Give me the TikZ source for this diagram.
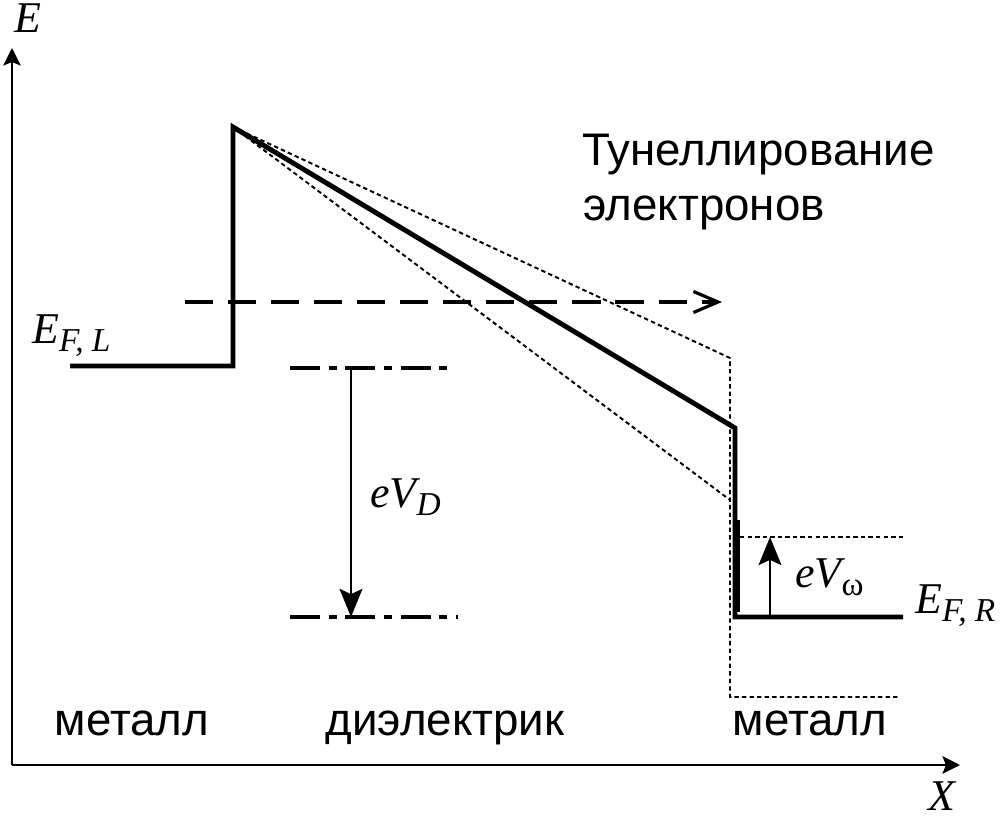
\documentclass[tikz,border=0pt]{standalone}
\usepackage{fontspec}
\setmainfont{Liberation Sans}
\newfontfamily\timesf{Liberation Serif}
\usetikzlibrary{arrows.meta}
\tikzset{
  lab/.style={font=\fontsize{26}{30}\selectfont, inner sep=0pt},
  sym/.style={font=\timesf\itshape\fontsize{25}{28}\selectfont, inner sep=0pt},
  axisLine/.style={line width=1.1pt, -{Stealth[length=10pt,width=10pt,inset=2pt]}},
  bandLine/.style={line width=2.8pt, line join=miter},
  guideLine/.style={line width=1.1pt, dash pattern=on 2.5pt off 1.8pt},
  levelLine/.style={line width=2.2pt, dash pattern=on 17pt off 5pt on 4.5pt off 5pt},
  tunLine/.style={line width=1.8pt, dash pattern=on 16pt off 8.5pt, -{Straight Barb[length=14pt,width=12pt]}},
  gapArrow/.style={line width=1.4pt, -{Stealth[length=16pt,width=13pt,inset=3pt]}}
}
\newcommand{\subs}[1]{\raisebox{-0.4ex}{\fontsize{19}{19}\selectfont #1}}
\begin{document}
\begin{tikzpicture}[x=0.02cm, y=-0.02cm]
\useasboundingbox (0,0) rectangle (1000,821);
% axes
\coordinate (org) at (12,765);
\coordinate (eTip) at (12,48);
\coordinate (xTip) at (960,765);
\draw[axisLine] (org) -- (eTip);
\draw[axisLine] (org) -- (xTip);
\node[sym] (eAxis) at (28,18) {E};
\node[sym, anchor=base] (xAxis) at (942,810) {X};

% barrier profile
\coordinate (top) at (233,127);
\draw[guideLine] (top) -- (730,358) -- (730,697) -- (900,697);
\draw[guideLine] (top) -- (730,500);
\draw[guideLine] (740,537) -- (905,537);
\draw[bandLine] (70,366) -- (233,366) -- (top) -- (735,428) -- (735,617) -- (903,617);
\draw[line width=2.8pt] (738,520) -- (738,612);

% tunnelling
\coordinate (tunFrom) at (185,302);
\coordinate (tunTo) at (722,302);
\draw[tunLine] (tunFrom) -- (tunTo);
\node[lab, anchor=base west] (tunOne) at (582,165) {Тунеллирование};
\node[lab, anchor=base west] (tunTwo) at (583,220) {электронов};

% levels
\draw[levelLine] (290,368) -- (455,368);
\draw[levelLine] (290,617) -- (458,617);
\coordinate (dTop) at (351,368);
\coordinate (dBot) at (351,617);
\draw[gapArrow] (dTop) -- (dBot);
\node[sym, anchor=base west] (vD) at (370,507) {eV\subs{D}};
\coordinate (wBot) at (770,617);
\coordinate (wTop) at (770,537);
\draw[gapArrow] (wBot) -- (wTop);
\node[sym, anchor=base west] (vW) at (795,587) {eV\subs{\upshape ω}};

\node[sym, anchor=base west] (efL) at (32,343) {E\subs{F, L}};
\node[sym, anchor=base west] (efR) at (915,613) {E\subs{F, R}};

% regions
\node[lab, anchor=base] (metL) at (132,735) {металл};
\node[lab, anchor=base] (diel) at (445,735) {диэлектрик};
\node[lab, anchor=base] (metR) at (810,735) {металл};
\end{tikzpicture}
\end{document}
